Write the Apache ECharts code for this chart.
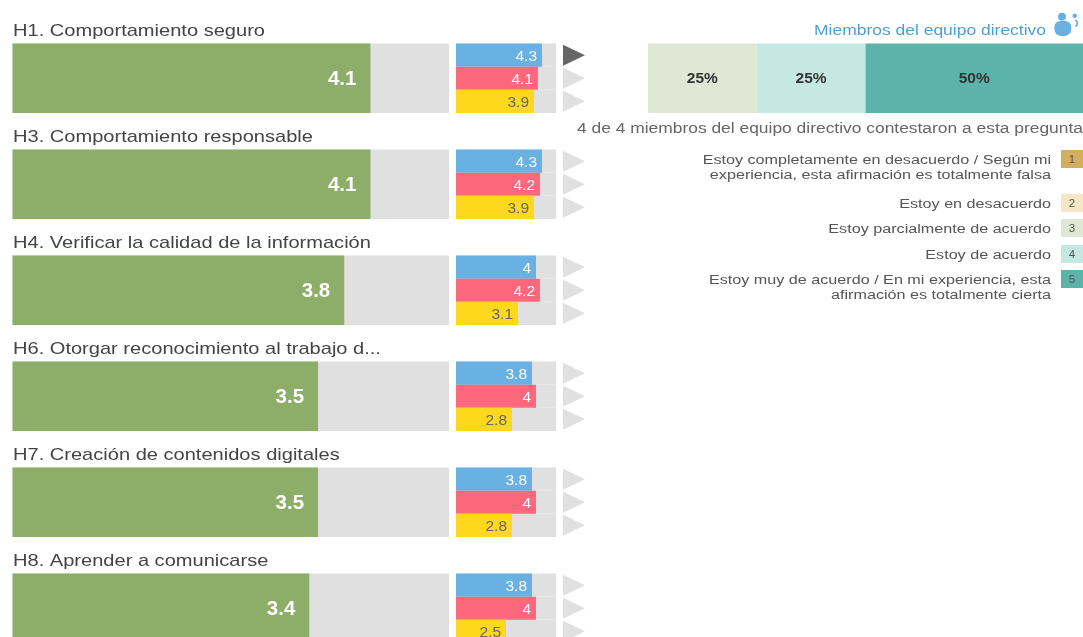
<!DOCTYPE html>
<html>
<head>
<meta charset="utf-8">
<title>Habilidades</title>
<script src="https://cdn.jsdelivr.net/npm/echarts@6/dist/echarts.min.js"></script>
<style>
html,body{margin:0;padding:0;background:#fff;overflow:hidden;}
#chart{width:1083px;height:637px;}
</style>
</head>
<body>
<div id="chart"></div>
<script>
var rowTitles = [
    'H1. Comportamiento seguro',
    'H3. Comportamiento responsable',
    'H4. Verificar la calidad de la información',
    'H6. Otorgar reconocimiento al trabajo d...',
    'H7. Creación de contenidos digitales',
    'H8. Aprender a comunicarse'
];
var overallValues = [4.1, 4.1, 3.8, 3.5, 3.5, 3.4];
var blueValues = [4.3, 4.3, 4, 3.8, 3.8, 3.8];
var redValues = [4.1, 4.2, 4.2, 4, 4, 4];
var yellowValues = [3.9, 3.9, 3.1, 2.8, 2.8, 2.5];
//哪个三角形是深色
var blueArrowOn = [1, 0, 0, 0, 0, 0];
var redArrowOn = [0, 0, 0, 0, 0, 0];
var yellowArrowOn = [0, 0, 0, 0, 0, 0];

var shareNames = ['3', '4', '5'];
var shareValues = [25, 25, 50];
var shareColors = ['#e0e8d5', '#c5e9e2', '#5bb3aa'];

var legendNums = ['1', '2', '3', '4', '5'];
var legendTexts = [
    'Estoy completamente en desacuerdo / Según mi\nexperiencia, esta afirmación es totalmente falsa',
    'Estoy en desacuerdo',
    'Estoy parcialmente de acuerdo',
    'Estoy de acuerdo',
    'Estoy muy de acuerdo / En mi experiencia, esta\nafirmación es totalmente cierta'
];
var legendColors = ['#d4ad5f', '#f5e6c4', '#e0e8d5', '#c5e9e2', '#5bb3aa'];
var legendTops = [150, 194, 219, 245, 270];

var TRACK = '#e0e0e0';
var FONT = '"Liberation Sans", Arial, sans-serif';
var STRETCH = 1.18; //原图文字横向偏宽

function hiddenCat(grid) {
    return { type: 'category', gridIndex: grid, data: rowTitles, inverse: true, show: false };
}
function hiddenVal(grid, max) {
    return { type: 'value', gridIndex: grid, min: 0, max: max, show: false };
}

function smallBar(name, values, color, labelColor) {
    return {
        name: name,
        type: 'bar',
        xAxisIndex: 1,
        yAxisIndex: 1,
        data: values,
        barWidth: 23.17,
        barGap: 0,
        showBackground: true,
        backgroundStyle: { color: TRACK },
        itemStyle: { color: color },
        label: {
            show: true, position: 'insideRight', distance: 5, offset: [0, 1.5],
            color: labelColor, fontSize: 15.5, fontFamily: FONT
        },
        silent: true
    };
}

function arrows(name, flags, offset) {
    return {
        name: name,
        type: 'scatter',
        xAxisIndex: 2,
        yAxisIndex: 2,
        symbol: 'path://M0,0L1,0.5L0,1Z',
        symbolSize: [22, 21],
        symbolOffset: [0, offset],
        data: flags.map(function (on, i) {
            return { value: [0.5, i], itemStyle: { color: on ? '#666666' : TRACK, opacity: 1 } };
        }),
        silent: true
    };
}

var series = [
    {
        name: 'overall',
        type: 'bar',
        xAxisIndex: 0,
        yAxisIndex: 0,
        data: overallValues,
        barWidth: 69.5,
        showBackground: true,
        backgroundStyle: { color: TRACK },
        itemStyle: { color: '#8cae68' },
        label: {
            show: true, position: 'insideRight', distance: 14, offset: [0, 1],
            color: '#fff', fontSize: 20.5, fontWeight: 'bold', fontFamily: FONT
        },
        silent: true
    },
    smallBar('blue', blueValues, '#6ab1e3', '#fff'),
    smallBar('red', redValues, '#fd687d', '#fff'),
    smallBar('yellow', yellowValues, '#fdd81c', '#666'),
    arrows('blueArrow', blueArrowOn, -23),
    arrows('redArrow', redArrowOn, 0),
    arrows('yellowArrow', yellowArrowOn, 23)
];

//右上角堆叠条
shareValues.forEach(function (v, i) {
    series.push({
        name: shareNames[i],
        type: 'bar',
        stack: 'share',
        xAxisIndex: 3,
        yAxisIndex: 3,
        data: [v],
        barWidth: 69.5,
        itemStyle: { color: shareColors[i] },
        label: {
            show: true, position: 'inside', formatter: '{c}%',
            color: '#333', fontSize: 15.5, fontWeight: 'bold', fontFamily: FONT
        },
        silent: true
    });
});

function stretchedText(text, x, y, size, fill, align) {
    return {
        type: 'text', x: x, y: y, scaleX: STRETCH, silent: true,
        style: {
            text: text, fill: fill, font: size + 'px ' + FONT,
            align: align, verticalAlign: 'middle', lineHeight: 15.5
        }
    };
}

var graphic = [];
rowTitles.forEach(function (t, i) {
    graphic.push(stretchedText(t, 13, 31 + i * 106, 17, '#444', 'left'));
});
graphic.push(stretchedText('Miembros del equipo directivo', 1046, 31, 14.8, '#4f9fd5', 'right'));
graphic.push(stretchedText('4 de 4 miembros del equipo directivo contestaron a esta pregunta', 1083, 129, 14.75, '#666', 'right'));
//图标
graphic.push({ type: 'circle', shape: { cx: 1062, cy: 16.7, r: 4 }, style: { fill: '#6ab1e3' }, silent: true });
graphic.push({ type: 'rect', shape: { x: 1054.3, y: 21, width: 17, height: 15, r: [6, 6, 7, 7] }, style: { fill: '#6ab1e3' }, silent: true });
graphic.push({ type: 'circle', shape: { cx: 1074.7, cy: 15.7, r: 2.2 }, style: { fill: '#6ab1e3' }, silent: true });
graphic.push({ type: 'arc', shape: { cx: 1073.5, cy: 23.2, r: 3.8, startAngle: -Math.PI / 3, endAngle: Math.PI / 3 }, style: { stroke: '#6ab1e3', lineWidth: 1.8, fill: 'none' }, silent: true });

legendNums.forEach(function (n, i) {
    var top = legendTops[i];
    var twoLines = legendTexts[i].indexOf('\n') > -1;
    graphic.push({
        type: 'rect', silent: true,
        shape: { x: 1061, y: top, width: 22, height: 18 },
        style: { fill: legendColors[i] }
    });
    graphic.push({
        type: 'text', silent: true, x: 1072, y: top + 10,
        style: { text: n, fill: '#555', font: '11.5px ' + FONT, align: 'center', verticalAlign: 'middle' }
    });
    graphic.push(stretchedText(legendTexts[i], 1051, top + (twoLines ? 17.5 : 10), 13.7, '#555', 'right'));
});

var chart = echarts.init(document.getElementById('chart'), null, { renderer: 'canvas' });
var gridBase = { outerBoundsMode: 'none' };
chart.setOption({
    animation: false,
    backgroundColor: '#fff',
    grid: [
        Object.assign({ left: 12.5, top: 25.25, width: 436.5, height: 636 }, gridBase),
        Object.assign({ left: 456, top: 25.25, width: 100, height: 636 }, gridBase),
        Object.assign({ left: 563, top: 25.25, width: 22, height: 636 }, gridBase),
        Object.assign({ left: 648, top: 43.5, width: 435, height: 69.5 }, gridBase)
    ],
    xAxis: [hiddenVal(0, 5), hiddenVal(1, 5), hiddenVal(2, 1), hiddenVal(3, 100)],
    yAxis: [
        hiddenCat(0), hiddenCat(1), hiddenCat(2),
        { type: 'category', gridIndex: 3, data: ['share'], show: false }
    ],
    series: series,
    graphic: graphic
});
</script>
</body>
</html>
